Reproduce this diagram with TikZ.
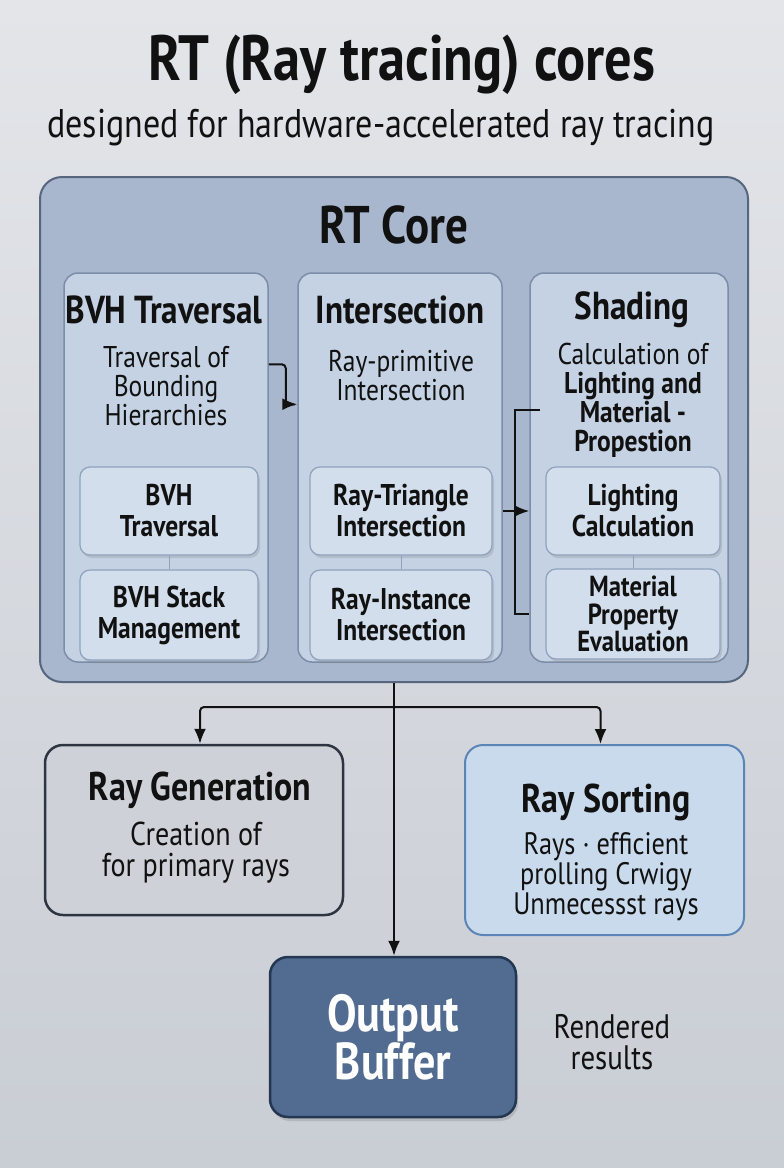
\documentclass[tikz,border=0pt]{standalone}
\usepackage{fontspec}
\setmainfont{PT Sans}[FakeStretch=0.85]
\usepackage{tikz}
\usetikzlibrary{arrows.meta,positioning,calc,shadows}
\definecolor{bgtop}{HTML}{E3E5E9}
\definecolor{bgbot}{HTML}{C9CDD4}
\definecolor{corefill}{HTML}{A8B7CD}
\definecolor{coreline}{HTML}{56667F}
\definecolor{colfill}{HTML}{C4D2E4}
\definecolor{colline}{HTML}{7C8DA9}
\definecolor{subfill}{HTML}{D2DEEC}
\definecolor{subline}{HTML}{8FA1BC}
\definecolor{genfill}{HTML}{CED1D7}
\definecolor{genline}{HTML}{2E3540}
\definecolor{sortfill}{HTML}{C9DAEC}
\definecolor{sortline}{HTML}{5B85B6}
\definecolor{outfill}{HTML}{526C91}
\definecolor{outline}{HTML}{233652}
\definecolor{ink}{HTML}{111111}
\tikzset{x=1pt,y=-1pt,
  colbox/.style={draw=colline,line width=1.5pt,rounded corners=14pt,fill=colfill,minimum height=389pt,inner sep=0pt},
  subbox/.style={draw=subline,line width=1.2pt,rounded corners=10pt,fill=subfill,drop shadow={opacity=.25,shadow xshift=2pt,shadow yshift=-3pt},align=center,font=\fontsize{30}{31}\selectfont\bfseries,text=ink},
  head/.style={font=\fontsize{39}{40}\selectfont\bfseries,text=ink},
  desc/.style={font=\fontsize{30}{29}\selectfont,align=center,text=ink},
  bigbox/.style={rounded corners=18pt,line width=2.5pt,minimum width=298pt,inner sep=0pt},
  arr/.style={-{Latex[length=15pt,width=12pt]},line width=2pt,ink},line/.style={line width=2pt,ink}}
\begin{document}
\begin{tikzpicture}
\fill[top color=bgtop,bottom color=bgbot] (0,0) rectangle (784,1168);
\useasboundingbox (0,0) rectangle (784,1168);
% titles
\node[font=\fontsize{64}{66}\selectfont\bfseries,text=ink] (ttl) at (402,65) {RT (Ray tracing) cores};
\node[font=\fontsize{40}{42}\selectfont,text=ink] (subttl) at (381,128) {designed for hardware-accelerated ray tracing};
% RT core
\node[draw=coreline,line width=2pt,rounded corners=22pt,fill=corefill,minimum width=708pt,minimum height=505pt] (core) at (394,429.5) {};
\node[font=\fontsize{53}{55}\selectfont\bfseries,text=ink] (coret) at (394,225) {RT Core};
\node[colbox,minimum width=204pt] (bvh) at (166,467.5) {};
\node[colbox,minimum width=204pt] (isec) at (400,467.5) {};
\node[colbox,minimum width=198pt] (shade) at (629,467.5) {};
\node[head] (bvht) at (164,310) {BVH Traversal};
\node[head] (isect) at (400,310) {Intersection};
\node[head] (shadet) at (632,310) {Shading};
\node[desc] (bvhd) at (166,386) {Traversal of\\Bounding\\Hierarchies};
\node[desc] (isecd) at (401,376) {Ray-primitive\\Intersection};
\node[desc] (shaded) at (633,400) {Calculation of\\\textbf{Lighting and}\\\textbf{Material -}\\\textbf{Propestion}};
\node[subbox,minimum width=178pt,minimum height=88pt] (bvh1) at (169,511) {BVH\\Traversal};
\node[subbox,minimum width=178pt,minimum height=90pt] (bvh2) at (169,615) {BVH Stack\\Management};
\node[subbox,minimum width=182pt,minimum height=88pt] (isec1) at (401,511) {Ray-Triangle\\Intersection};
\node[subbox,minimum width=182pt,minimum height=90pt] (isec2) at (401,615) {Ray-Instance\\Intersection};
\node[subbox,minimum width=174pt,minimum height=88pt] (shade1) at (633,511) {Lighting\\Calculation};
\node[subbox,minimum width=174pt,minimum height=90pt,font=\fontsize{29}{27.5}\selectfont\bfseries] (shade2) at (633,614) {Material\\Property\\Evaluation};
\foreach \a/\b in {bvh1/bvh2,isec1/isec2,shade1/shade2} \draw[subline,line width=1pt] (\a.south) -- (\b.north);
% arrows inside the core
\draw[arr,rounded corners=4pt] ([yshift=-92pt]bvh.north east) -- ++(17,0) |- ([yshift=-132pt]isec.north west);
\draw[arr] (isec.east |- shade1) -- (shade.west |- shade1);
\coordinate (brtop) at (540,410);
\draw[line] (brtop) -| ([xshift=-14pt]shade.west |- shade2) -- (shade.west |- shade2);
% lower boxes
\node[bigbox,draw=genline,fill=genfill,minimum height=170pt] (raygen) at (194,830) {};
\node[font=\fontsize{40}{42}\selectfont\bfseries,text=ink] (raygent) at (200,790) {Ray Generation};
\node[desc,font=\fontsize{33}{31}\selectfont] (raygend) at (196,853) {Creation of\\for primary rays};
\node[bigbox,draw=sortline,line width=2pt,fill=sortfill,minimum width=279pt,minimum height=190pt] (raysort) at (604.5,840) {};
\node[font=\fontsize{40}{42}\selectfont\bfseries,text=ink] (raysortt) at (606,802) {Ray Sorting};
\node[desc,font=\fontsize{31}{30}\selectfont] (raysortd) at (606,877) {Rays · efficient\\prolling Crwigy\\Unmecessst rays};
\node[bigbox,draw=outline,fill=outfill,minimum width=246pt,minimum height=160pt,align=center,text=white,font=\fontsize{52}{45}\selectfont\bfseries,drop shadow={opacity=.3,shadow xshift=2pt,shadow yshift=-4pt}] (outbuf) at (393,1037) {Output\\Buffer};
\node[desc,font=\fontsize{34}{31}\selectfont] (rendered) at (612,1042) {Rendered\\results};
% connectors below the core
\coordinate (split) at (394,707);
\draw[line] (core.south -| split) -- (split);
\draw[arr,rounded corners=4pt] (split) -| ([xshift=6pt]raygen.north);
\draw[arr,rounded corners=4pt] (split) -| ([xshift=-4pt]raysort.north);
\draw[arr] (split) -- (outbuf.north -| split);
\end{tikzpicture}
\end{document}
